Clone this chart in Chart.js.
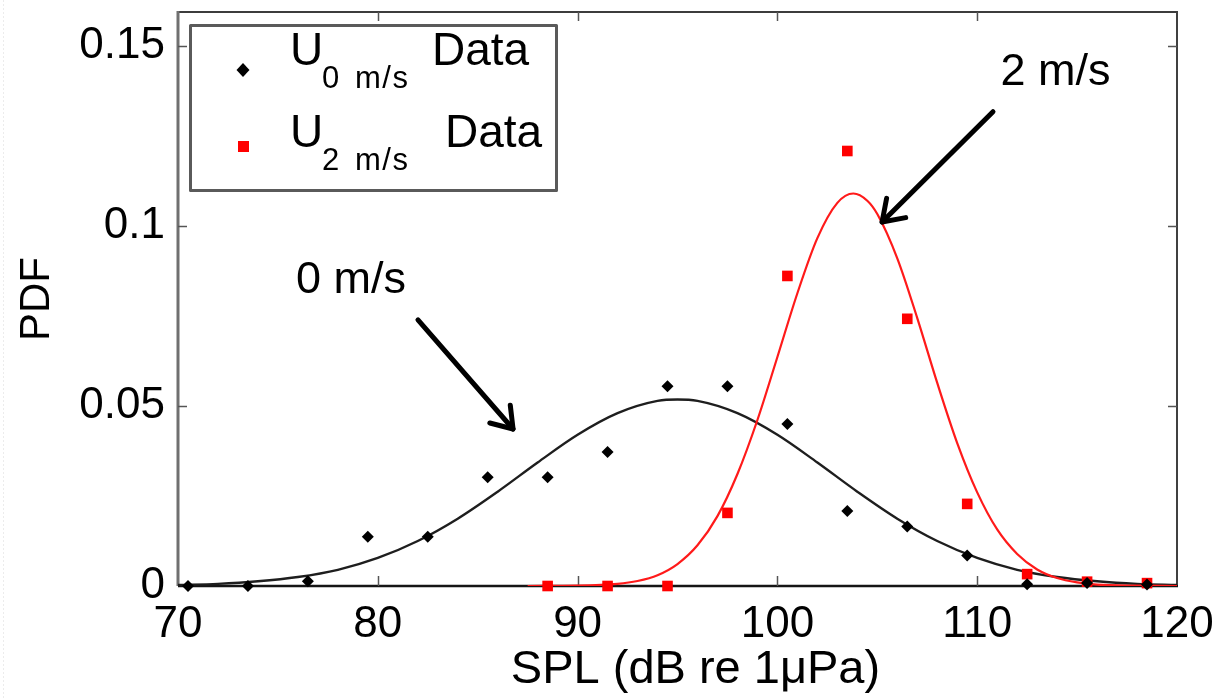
<!DOCTYPE html>
<html>
<head>
<meta charset="utf-8">
<script src="https://cdn.jsdelivr.net/npm/chart.js@4.4.1/dist/chart.umd.min.js"></script>
<style>
  html, body { margin: 0; padding: 0; background: #ffffff; }
  #wrap { position: relative; width: 1218px; height: 698px; }
  canvas { display: block; }
</style>
</head>
<body>
<div id="wrap"><canvas id="chart" width="1218" height="698"></canvas></div>
<script>
// Histogram bin centres (SPL, dB re 1 µPa)
const binCenters = [70.5, 73.5, 76.5, 79.5, 82.5, 85.5, 88.5, 91.5, 94.5, 97.5, 100.5, 103.5, 106.5, 109.5, 112.5, 115.5, 118.5];
// Measured PDF at 0 m/s
const pdf0 = [0, 0, 0.0013, 0.0137, 0.0137, 0.0302, 0.0302, 0.0372, 0.0555, 0.0555, 0.0450, 0.0208, 0.0165, 0.0085, 0.0005, 0.0008, 0.0004];
// Measured PDF at 2 m/s (bins from 88.5 upward)
const binCenters2 = [88.5, 91.5, 94.5, 97.5, 100.5, 103.5, 106.5, 109.5, 112.5, 115.5, 118.5];
const pdf2 = [0, 0, 0, 0.0203, 0.0861, 0.1208, 0.0742, 0.0228, 0.0033, 0.0012, 0.0008];

// Fitted curve, 0 m/s
const fit0X = [70, 72, 74, 76, 78, 80, 82, 84, 86, 88, 90, 92, 94, 95, 96, 98, 100, 102, 104, 106, 108, 110, 112, 114, 116, 118, 120];
const fit0Y = [0.0003, 0.0006, 0.0013, 0.0025, 0.0045, 0.0078, 0.0125, 0.0187, 0.0262, 0.0343, 0.0420, 0.0480, 0.0514, 0.0518, 0.0514, 0.0480, 0.0420, 0.0343, 0.0262, 0.0187, 0.0125, 0.0078, 0.0045, 0.0025, 0.0013, 0.0006, 0.0003];
// Fitted curve, 2 m/s
const fit2X = [87.5, 90, 92, 93, 94, 95, 96, 97, 98, 99, 100, 101, 102, 103, 103.8, 104.5, 105, 106, 107, 108, 109, 110, 111, 112, 113, 114, 115, 116, 118, 120];
const fit2Y = [0, 0.0001, 0.0006, 0.0014, 0.0030, 0.0061, 0.0113, 0.0194, 0.0311, 0.0461, 0.0636, 0.0813, 0.0966, 0.1064, 0.1090, 0.1070, 0.1033, 0.0910, 0.0744, 0.0564, 0.0397, 0.0260, 0.0157, 0.0089, 0.0046, 0.0022, 0.0010, 0.0004, 0.0001, 0];

// Axis ticks
const xTicks = [70, 80, 90, 100, 110, 120];
const yTicks = [0, 0.05, 0.1, 0.15];
const yTickLabels = ['0', '0.05', '0.1', '0.15'];

// Callout texts with the point each arrow aims at
const callouts = [
  { text: '0 m/s', at: [78.66, 0.0814], from: [82.01, 0.0739], to: [86.77, 0.0436] },
  { text: '2 m/s', at: [113.92, 0.1392], from: [110.79, 0.1317], to: [105.24, 0.1011] }
];

const FONT = '"Liberation Sans", Arial, Helvetica, sans-serif';

const toXY = (xs, ys) => xs.map((x, i) => ({ x: x, y: ys[i] }));

// Box around the plot with inward tick marks
const framePlugin = {
  id: 'frame',
  beforeDatasetsDraw(chart) {
    const { ctx, chartArea: a, scales } = chart;
    ctx.save();
    // faint dotted edge at the far left of the page
    ctx.strokeStyle = '#ececec';
    ctx.lineWidth = 1;
    ctx.setLineDash([2, 2]);
    ctx.beginPath(); ctx.moveTo(3.5, 0); ctx.lineTo(3.5, 698); ctx.stroke();
    ctx.setLineDash([]);

    ctx.lineCap = 'butt';
    // top
    ctx.strokeStyle = '#3c3c3c'; ctx.lineWidth = 2;
    ctx.beginPath(); ctx.moveTo(a.left, a.top); ctx.lineTo(a.right + 1, a.top); ctx.stroke();
    // right
    ctx.strokeStyle = '#404040'; ctx.lineWidth = 2;
    ctx.beginPath(); ctx.moveTo(a.right, a.top); ctx.lineTo(a.right, a.bottom); ctx.stroke();
    // left
    ctx.strokeStyle = '#707070'; ctx.lineWidth = 3;
    ctx.beginPath(); ctx.moveTo(a.left, a.top - 1); ctx.lineTo(a.left, a.bottom); ctx.stroke();
    // bottom
    ctx.strokeStyle = '#151515'; ctx.lineWidth = 2.5;
    ctx.beginPath(); ctx.moveTo(a.left, a.bottom); ctx.lineTo(a.right + 1, a.bottom); ctx.stroke();

    // tick marks
    ctx.strokeStyle = '#555555'; ctx.lineWidth = 1.5;
    xTicks.forEach(v => {
      const px = Math.round(scales.x.getPixelForValue(v)) + 0.5;
      if (px <= a.left + 2 || px >= a.right - 2) return;
      ctx.beginPath(); ctx.moveTo(px, a.bottom); ctx.lineTo(px, a.bottom - 10); ctx.stroke();
      ctx.beginPath(); ctx.moveTo(px, a.top); ctx.lineTo(px, a.top + 9); ctx.stroke();
    });
    yTicks.forEach(v => {
      const py = Math.round(scales.y.getPixelForValue(v)) + 0.5;
      if (py >= a.bottom - 2 || py <= a.top + 2) return;
      ctx.beginPath(); ctx.moveTo(a.left, py); ctx.lineTo(a.left + 9, py); ctx.stroke();
      ctx.beginPath(); ctx.moveTo(a.right, py); ctx.lineTo(a.right - 9, py); ctx.stroke();
    });
    ctx.restore();
  }
};

// Arrows, callout text, x-axis caption and the legend box
const overlayPlugin = {
  id: 'overlay',
  afterDraw(chart) {
    const { ctx, scales } = chart;
    const X = v => scales.x.getPixelForValue(v);
    const Y = v => scales.y.getPixelForValue(v);
    ctx.save();

    callouts.forEach(c => {
      ctx.fillStyle = '#000';
      ctx.font = '45px ' + FONT;
      ctx.textAlign = 'center';
      ctx.textBaseline = 'alphabetic';
      ctx.fillText(c.text, X(c.at[0]), Y(c.at[1]));

      const x0 = X(c.from[0]), y0 = Y(c.from[1]);
      const x1 = X(c.to[0]), y1 = Y(c.to[1]);
      ctx.strokeStyle = '#000';
      ctx.lineWidth = 5;
      ctx.lineCap = 'round';
      ctx.lineJoin = 'round';
      ctx.beginPath(); ctx.moveTo(x0, y0); ctx.lineTo(x1, y1); ctx.stroke();
      const ang = Math.atan2(y1 - y0, x1 - x0);
      const len = 24, spread = 0.6;
      ctx.beginPath();
      ctx.moveTo(x1 - len * Math.cos(ang - spread), y1 - len * Math.sin(ang - spread));
      ctx.lineTo(x1, y1);
      ctx.lineTo(x1 - len * Math.cos(ang + spread), y1 - len * Math.sin(ang + spread));
      ctx.stroke();
    });

    // x-axis caption, placed under the axis slightly right of centre
    ctx.fillStyle = '#000';
    ctx.font = '47px ' + FONT;
    ctx.textAlign = 'center';
    ctx.textBaseline = 'alphabetic';
    ctx.fillText('SPL (dB re 1\u03bcPa)', X(95.9), 683);

    // legend
    const lx = 189, ly = 24, lw = 369, lh = 168;
    ctx.fillStyle = '#ffffff';
    ctx.fillRect(lx, ly, lw, lh);
    ctx.strokeStyle = '#5a5a5a';
    ctx.lineWidth = 3;
    ctx.lineCap = 'butt';
    ctx.strokeRect(lx + 1.5, ly + 1.5, lw - 3, lh - 3);

    const ds = chart.data.datasets;
    // diamond marker
    ctx.fillStyle = ds[0].backgroundColor;
    ctx.beginPath();
    ctx.moveTo(243, 63); ctx.lineTo(249.5, 70); ctx.lineTo(243, 77); ctx.lineTo(236.5, 70);
    ctx.closePath(); ctx.fill();
    // square marker
    ctx.fillStyle = ds[1].backgroundColor;
    ctx.fillRect(238, 141, 11, 11);

    ctx.fillStyle = '#000';
    ctx.textAlign = 'left';
    ctx.textBaseline = 'alphabetic';
    const rows = [
      { base: 65, sub: '0', subBase: 88, dataX: 432 },
      { base: 147, sub: '2', subBase: 170, dataX: 445 }
    ];
    rows.forEach(r => {
      ctx.font = '46px ' + FONT;
      ctx.fillText('U', 290, r.base);
      ctx.font = '31px ' + FONT;
      ctx.fillText(r.sub, 322, r.subBase);
      ctx.letterSpacing = '1.5px';
      ctx.fillText('m/s', 355, r.subBase);
      ctx.letterSpacing = '0px';
      ctx.font = '46px ' + FONT;
      ctx.fillText('Data', r.dataX, r.base);
    });
    ctx.restore();
  }
};

new Chart(document.getElementById('chart'), {
  type: 'scatter',
  data: {
    datasets: [
      {
        label: 'U 0 m/s Data',
        data: toXY(binCenters, pdf0),
        pointStyle: 'rectRot',
        pointRadius: 6,
        backgroundColor: '#000000',
        borderWidth: 0,
        showLine: false,
        clip: false,
        order: 0
      },
      {
        label: 'U 2 m/s Data',
        data: toXY(binCenters2, pdf2),
        pointStyle: 'rect',
        pointRadius: 7.5,
        backgroundColor: '#ff0000',
        borderWidth: 0,
        showLine: false,
        clip: false,
        order: 0
      },
      {
        label: '0 m/s fit',
        data: toXY(fit0X, fit0Y),
        showLine: true,
        borderColor: '#1e1e1e',
        borderWidth: 2.4,
        pointRadius: 0,
        cubicInterpolationMode: 'monotone',
        order: 2
      },
      {
        label: '2 m/s fit',
        data: toXY(fit2X, fit2Y),
        showLine: true,
        borderColor: '#ff1a1a',
        borderWidth: 2.2,
        pointRadius: 0,
        cubicInterpolationMode: 'monotone',
        order: 1
      }
    ]
  },
  options: {
    responsive: false,
    animation: false,
    events: [],
    layout: { padding: { top: 12, right: 41, left: 0, bottom: 0 } },
    plugins: { legend: { display: false }, tooltip: { enabled: false } },
    scales: {
      x: {
        type: 'linear',
        min: 70, max: 120,
        grid: { display: false, drawTicks: false },
        border: { display: false },
        afterBuildTicks: s => { s.ticks = xTicks.map(v => ({ value: v })); },
        afterFit: s => { s.height = 112; s.paddingLeft = 0; s.paddingRight = 0; s.paddingTop = 0; s.paddingBottom = 0; },
        ticks: {
          color: '#000', padding: 12, maxRotation: 0, autoSkip: false,
          font: { family: FONT, size: 44 }
        },
        title: { display: false }
      },
      y: {
        type: 'linear',
        min: 0, max: 0.1594,
        grid: { display: false, drawTicks: false },
        border: { display: false },
        afterBuildTicks: s => { s.ticks = yTicks.map(v => ({ value: v })); },
        afterFit: s => { s.width = 178; s.paddingLeft = 0; s.paddingRight = 0; s.paddingTop = 0; s.paddingBottom = 0; },
        ticks: {
          color: '#000', padding: 13, autoSkip: false,
          font: { family: FONT, size: 44 },
          callback: (v, i) => yTickLabels[i]
        },
        title: {
          display: true, text: 'PDF', color: '#000',
          font: { family: FONT, size: 42, lineHeight: 1 },
          padding: { top: 16, bottom: 0 }
        }
      }
    }
  },
  plugins: [framePlugin, overlayPlugin]
});
</script>
</body>
</html>
